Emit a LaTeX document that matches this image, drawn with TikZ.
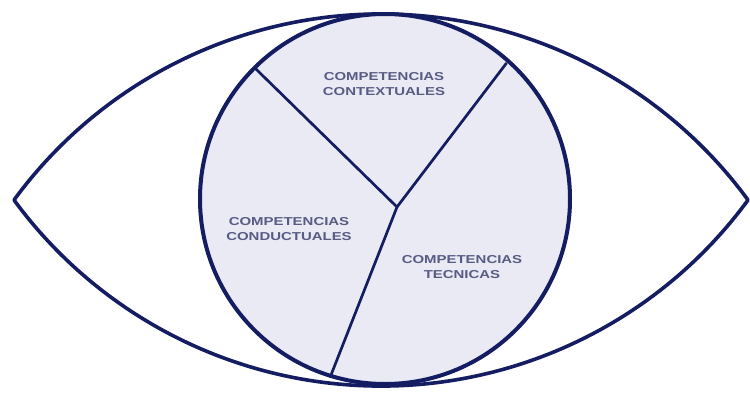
\documentclass[tikz,border=0pt]{standalone}
\usepackage{fontspec}
\setmainfont{Liberation Sans}
\usetikzlibrary{calc}
\definecolor{navy}{RGB}{20,28,98}
\definecolor{lav}{RGB}{233,234,244}
\definecolor{txt}{RGB}{88,92,132}
\tikzset{
  eyeline/.style={draw=navy, line width=3.6pt, line join=round},
  rim/.style={draw=navy, line width=4pt},
  chord/.style={draw=navy, line width=2.7pt, line cap=round},
  lbl/.style={text=txt, align=center, xscale=1.3, transform shape,
    font=\bfseries\fontsize{11.5}{15.5}\selectfont, inner sep=0pt}
}
\begin{document}
\begin{tikzpicture}[x=1pt,y=1pt]
\useasboundingbox (0,0) rectangle (750,-394);
\fill[white] (0,0) rectangle (750,-394);
% centre of the circle and junction
\coordinate (O) at (385,-199);
\coordinate (J) at (397,-207);
\coordinate (A) at ([shift={(134.8:183pt)}]O);
\coordinate (B) at ([shift={(48.2:182pt)}]O);
\coordinate (D) at ([shift={(252.9:186pt)}]O);
% circle fill
\fill[lav] (O) circle[radius=185pt];
% chords
\draw[chord] (A) -- (J);
\draw[chord] (B) -- (J);
\draw[chord] (D) -- (J);
% circle rim
\draw[rim] (O) circle[radius=185pt];
% eye
\coordinate (L) at (14,-200);
\coordinate (R) at (748,-200);
\draw[eyeline] (L) arc[start angle=143.76, end angle=36.24, radius=455.07pt]
  arc[start angle=323.76, end angle=216.24, radius=455.07pt] -- cycle;
% labels
\node[lbl] (ctx) at (384,-84) {COMPETENCIAS\\CONTEXTUALES};
\node[lbl] (cnd) at (289,-229) {COMPETENCIAS\\CONDUCTUALES};
\node[lbl] (tec) at (462,-267) {COMPETENCIAS\\TECNICAS};
\end{tikzpicture}
\end{document}
